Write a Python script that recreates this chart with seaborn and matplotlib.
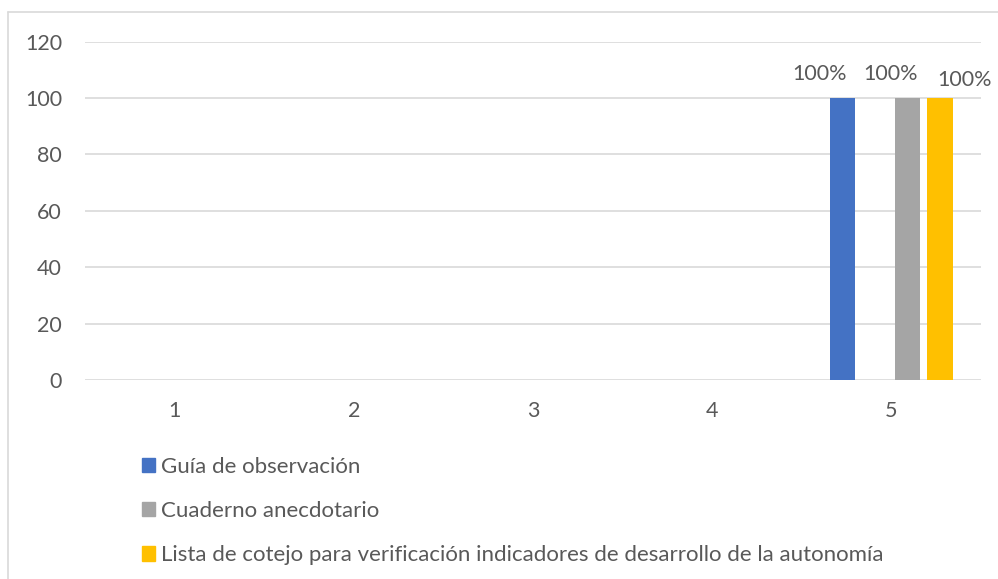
import matplotlib
matplotlib.use("Agg")
import matplotlib.pyplot as plt
import matplotlib.patches as mpatches
import seaborn as sns
import pandas as pd

# data
categories = ["1", "2", "3", "4", "5"]
series_names = [
    "Guía de observación",
    "Serie oculta",
    "Cuaderno anecdotario",
    "Lista de cotejo para verificación indicadores de desarrollo de la autonomía",
]
guia = [0, 0, 0, 0, 100]
oculta = [0, 0, 0, 0, 0]
cuaderno = [0, 0, 0, 0, 100]
lista = [0, 0, 0, 0, 100]
value_labels = ["100%", "100%", "100%"]

colors = ["#4472C4", "#ED7D31", "#A5A5A5", "#FFC000"]
text_color = "#595959"

rows = []
for name, vals in zip(series_names, [guia, oculta, cuaderno, lista]):
    for c, v in zip(categories, vals):
        rows.append({"cat": c, "serie": name, "valor": v})
df = pd.DataFrame(rows)

sns.set_theme(style="white")
plt.rcParams["font.family"] = ["Lato", "DejaVu Sans"]

fig = plt.figure(figsize=(9.98, 5.79), dpi=100)
ax = fig.add_axes([85 / 998, 1 - 380 / 579, (981 - 85) / 998, (380 - 41.5) / 579])

sns.barplot(data=df, x="cat", y="valor", hue="serie", hue_order=series_names,
            order=categories, palette=colors, width=0.725, gap=0.215,
            linewidth=0, saturation=1, ax=ax, legend=False)

ax.set_ylim(0, 120)
ax.set_yticks(range(0, 121, 20))
ax.yaxis.grid(True, color="#D9D9D9", linewidth=1.2)
ax.set_axisbelow(True)
for s in ax.spines.values():
    s.set_visible(False)
ax.tick_params(axis="both", length=0, labelsize=15.5, labelcolor=text_color)
ax.tick_params(axis="y", pad=16.5)
ax.tick_params(axis="x", pad=15)
ax.set_xlabel("")
ax.set_ylabel("")

# value labels on the last category (offsets as in the original)
label_offsets = [(-23, 24), (-17, 24), (24, 18)]
visible = [0, 2, 3]
for k, idx in enumerate(visible):
    cont = ax.containers[idx]
    bar = cont.patches[4]
    xc = bar.get_x() + bar.get_width() / 2
    dx, dy = label_offsets[k]
    ax.annotate(value_labels[k], (xc, bar.get_height()), xytext=(dx, dy),
                textcoords="offset pixels", ha="center", va="center",
                fontsize=15.5, color=text_color)

# legend below, one entry per row, hidden series left out
handles = [mpatches.Patch(color=colors[i], label=series_names[i]) for i in visible]
fig.legend(handles=handles, loc="upper left", bbox_to_anchor=(133 / 998, 1 - 448 / 579),
           frameon=False, fontsize=16, labelcolor=text_color, handlelength=0.6,
           handleheight=0.6, handletextpad=0.25, labelspacing=1.09, borderaxespad=0)

# chart area border
fig.add_artist(plt.Line2D([8 / 998, 1.0], [1 - 12 / 579] * 2, color="#D9D9D9", lw=1.2))
fig.add_artist(plt.Line2D([8 / 998] * 2, [0.0, 1 - 12 / 579], color="#D9D9D9", lw=1.2))

fig.savefig("out.png", dpi=100)
